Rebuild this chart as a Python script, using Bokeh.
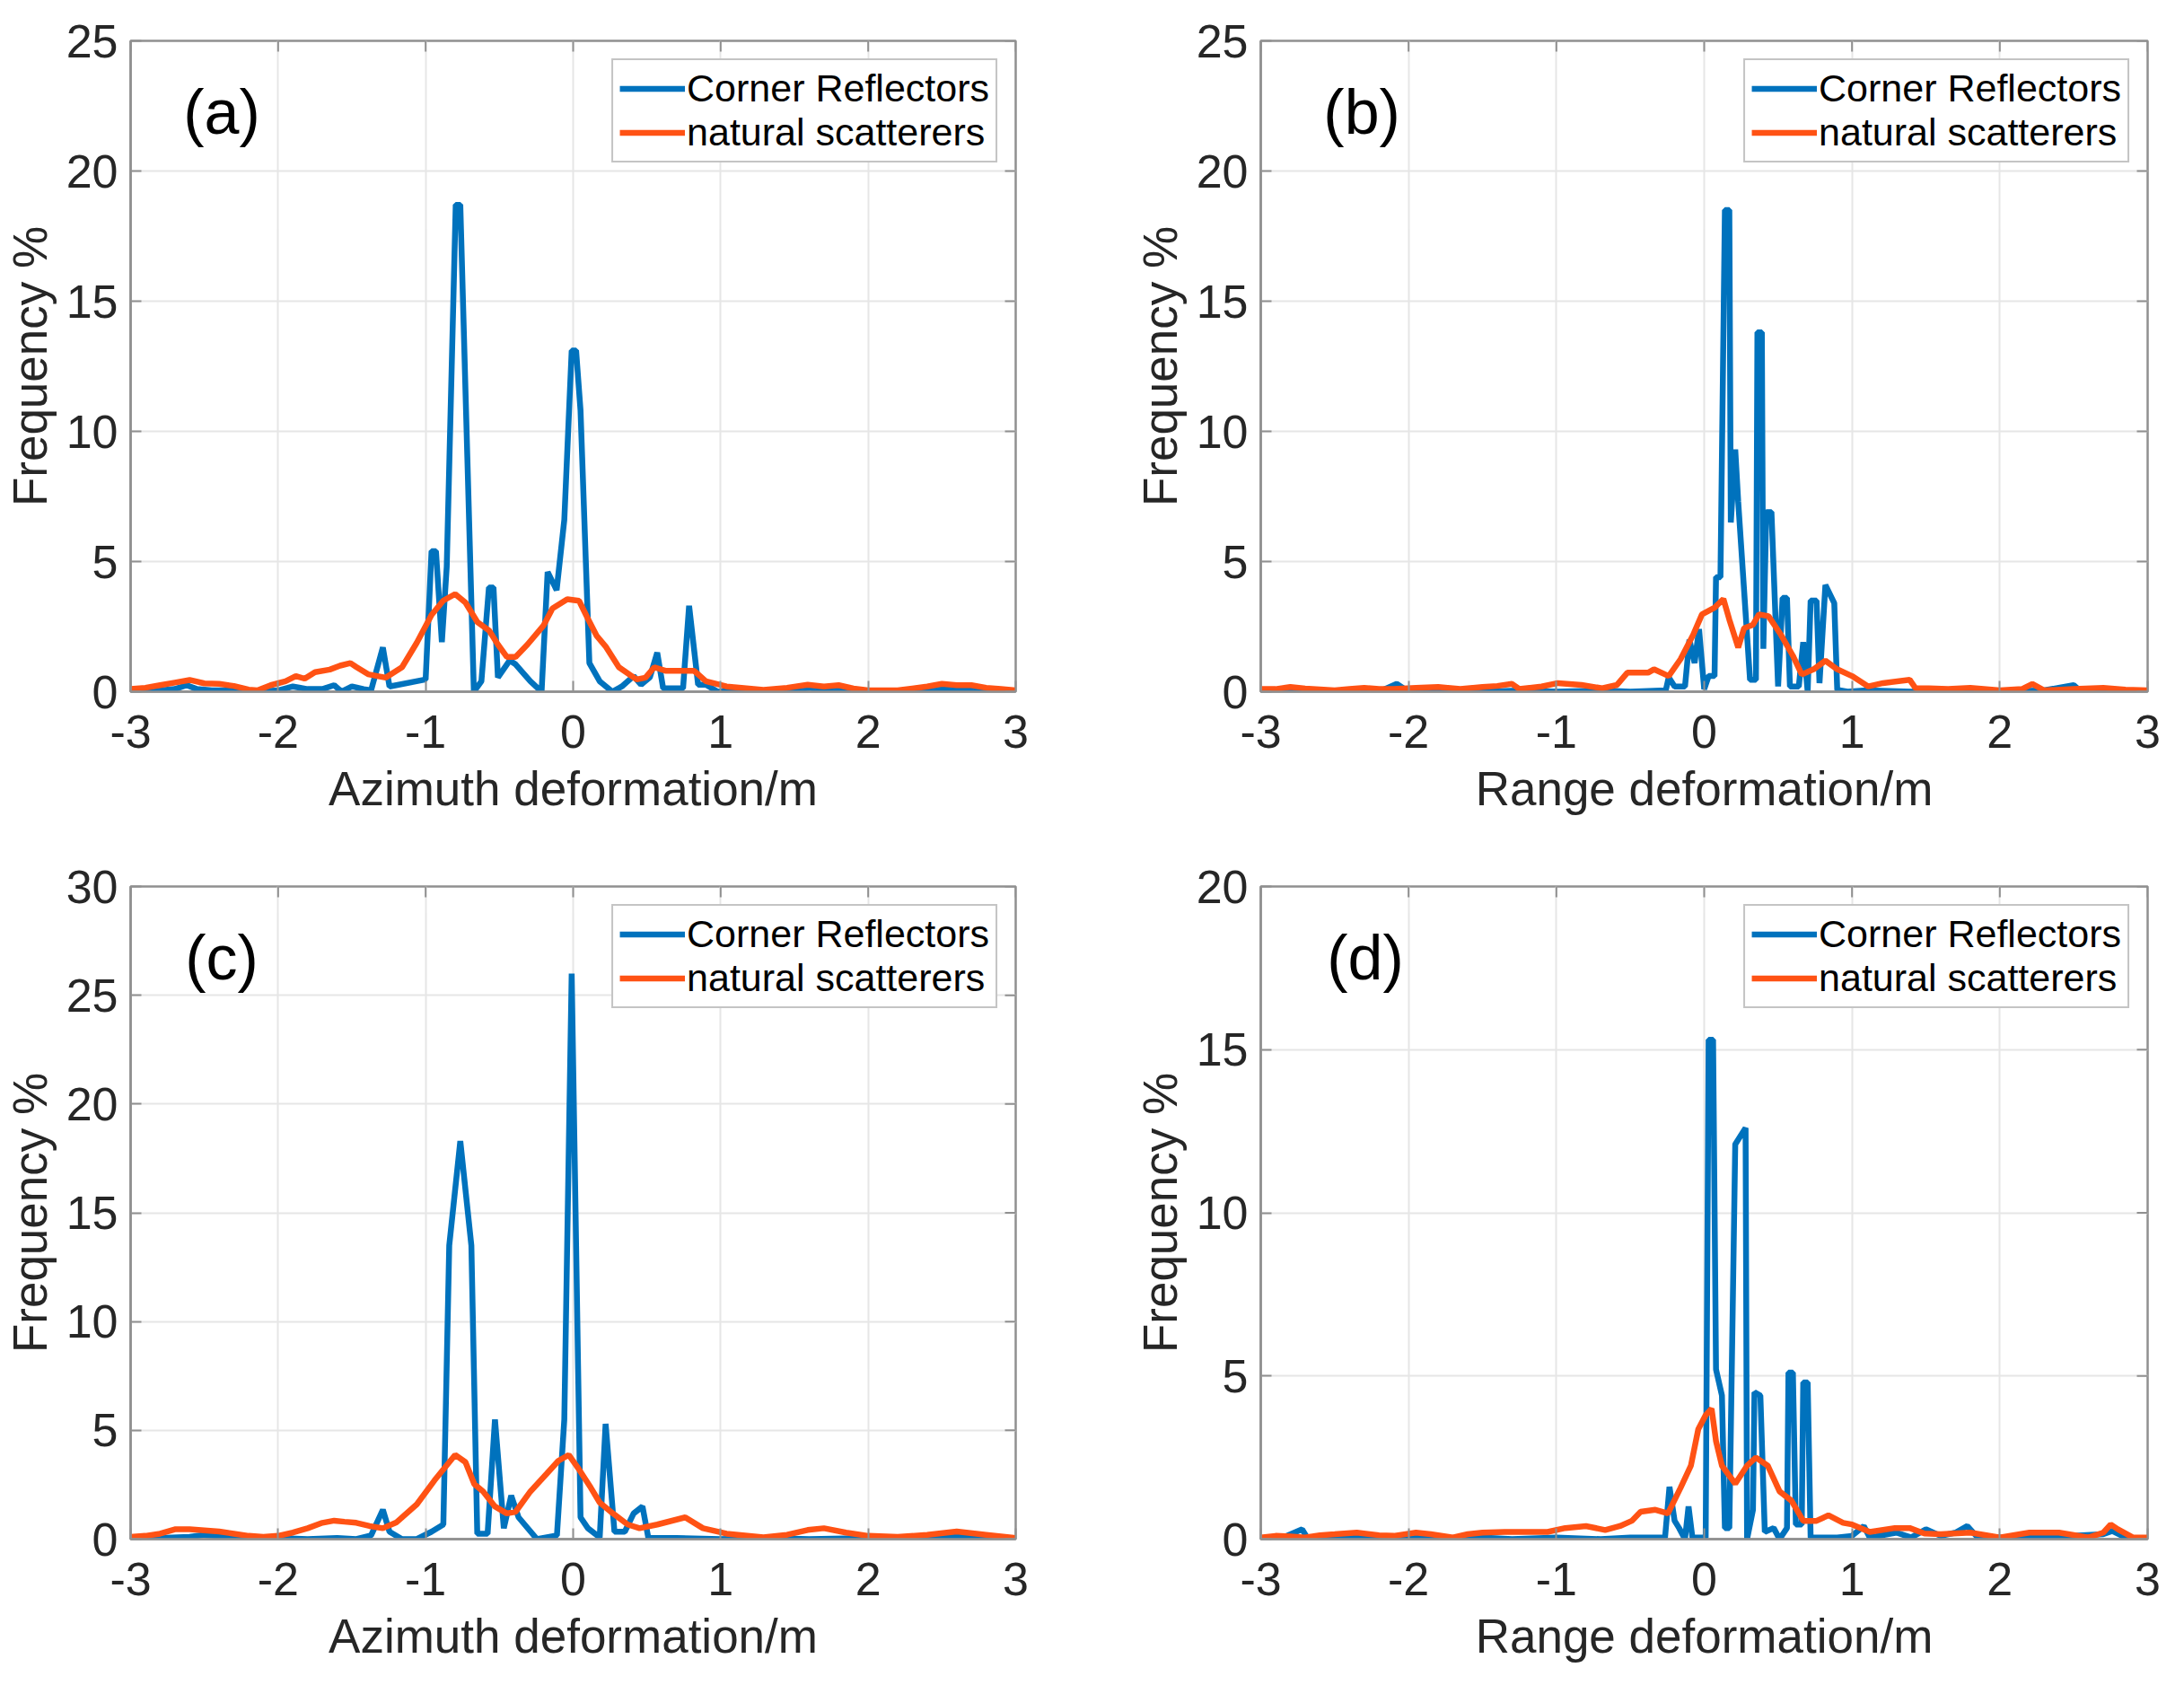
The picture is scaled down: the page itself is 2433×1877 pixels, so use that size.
from bokeh.plotting import figure
from bokeh.models import Range1d, FixedTicker, Label
from bokeh.layouts import gridplot
from bokeh.embed import file_html
from bokeh.resources import INLINE

# ---------------- data ----------------
x_ticks = [-3, -2, -1, 0, 1, 2, 3]
series_names = ["Corner Reflectors", "natural scatterers"]
panel_tags = ["(a)", "(b)", "(c)", "(d)"]
x_labels = ["Azimuth deformation/m", "Range deformation/m",
            "Azimuth deformation/m", "Range deformation/m"]
y_label = "Frequency %"
y_max = [25, 25, 30, 20]

# (a) azimuth, corner reflectors
a_cr_x = [-3.0, -2.9, -2.8, -2.7, -2.62, -2.55, -2.45, -2.3, -2.15, -2.0, -1.9, -1.8, -1.7, -1.62,
          -1.57, -1.5, -1.42, -1.37, -1.29, -1.245, -1.0, -0.96, -0.93, -0.89, -0.857, -0.796,
          -0.765, -0.673, -0.622, -0.571, -0.54, -0.51, -0.43, -0.39, -0.29, -0.214, -0.173,
          -0.112, -0.06, -0.01, 0.02, 0.05, 0.11, 0.18, 0.265, 0.33, 0.41, 0.46, 0.52, 0.57,
          0.61, 0.745, 0.786, 0.847, 0.9, 0.98, 1.1, 1.3, 1.45, 1.6, 1.7, 1.8, 1.9, 2.1, 2.3,
          2.5, 2.6, 2.7, 2.85, 3.0]
a_cr_y = [0.0, 0.05, 0.05, 0.1, 0.25, 0.1, 0.05, 0.05, 0.0, 0.05, 0.2, 0.1, 0.1, 0.25,
          0.0, 0.2, 0.1, 0.05, 1.7, 0.2, 0.47, 5.4, 5.4, 1.9, 4.8, 18.7,
          18.7, 0.0, 0.4, 4.0, 4.0, 0.55, 1.2, 1.05, 0.4, 0.0, 4.6,
          3.9, 6.6, 13.1, 13.1, 10.8, 1.1, 0.4, 0.0, 0.2, 0.6, 0.27, 0.55, 1.5,
          0.13, 0.13, 3.3, 0.27, 0.27, 0.0, 0.05, 0.0, 0.05, 0.15, 0.05, 0.12, 0.0, 0.0, 0.05,
          0.12, 0.05, 0.1, 0.02, 0.0]
# (a) azimuth, natural scatterers
a_ns_x = [-3.0, -2.9, -2.8, -2.7, -2.6, -2.5, -2.4, -2.3, -2.2, -2.14, -2.05, -1.95, -1.88, -1.82,
          -1.75, -1.65, -1.58, -1.51, -1.47, -1.39, -1.27, -1.16, -1.06, -0.96, -0.88, -0.8,
          -0.73, -0.65, -0.57, -0.51, -0.45, -0.39, -0.31, -0.2, -0.14, -0.04, 0.04, 0.1, 0.16,
          0.22, 0.31, 0.43, 0.49, 0.55, 0.63, 0.82, 0.9, 1.04, 1.29, 1.45, 1.59, 1.7, 1.8, 1.9,
          2.0, 2.2, 2.4, 2.5, 2.6, 2.7, 2.8, 2.9, 3.0]
a_ns_y = [0.1, 0.15, 0.25, 0.35, 0.45, 0.32, 0.3, 0.22, 0.08, 0.05, 0.25, 0.4, 0.6, 0.5,
          0.75, 0.85, 1.0, 1.1, 0.95, 0.67, 0.54, 0.94, 1.88, 2.95, 3.5, 3.75,
          3.42, 2.68, 2.35, 1.81, 1.34, 1.34, 1.81, 2.55, 3.2, 3.55, 3.49, 2.8, 2.14,
          1.74, 0.94, 0.47, 0.54, 0.94, 0.8, 0.8, 0.4, 0.2, 0.07, 0.15, 0.27, 0.2, 0.25, 0.12,
          0.05, 0.05, 0.2, 0.3, 0.25, 0.25, 0.15, 0.1, 0.05]

# (b) range, corner reflectors
b_cr_x = [-3.0, -2.8, -2.6, -2.4, -2.2, -2.08, -2.0, -1.8, -1.5, -1.2, -1.0, -0.7, -0.5, -0.26,
          -0.24, -0.2, -0.13, -0.1, -0.065, -0.035, 0.0, 0.03, 0.07, 0.08, 0.11, 0.14, 0.17,
          0.18, 0.21, 0.23, 0.31, 0.35, 0.36, 0.39, 0.4, 0.42, 0.455, 0.5, 0.53, 0.56, 0.58,
          0.64, 0.67, 0.70, 0.72, 0.76, 0.78, 0.82, 0.88, 0.9, 0.97, 1.1, 1.4, 1.7, 2.0, 2.3,
          2.5, 2.55, 2.8, 3.0]
b_cr_y = [0.0, 0.05, 0.0, 0.05, 0.0, 0.3, 0.0, 0.05, 0.0, 0.05, 0.0, 0.05, 0.0, 0.05,
          0.55, 0.2, 0.2, 2.0, 1.1, 2.4, 0.1, 0.6, 0.6, 4.4, 4.4, 18.5, 18.5,
          6.5, 9.3, 7.3, 0.46, 0.46, 13.8, 13.8, 1.65, 6.9, 6.9, 0.2, 3.6, 3.6, 0.2,
          0.2, 1.9, 0.0, 3.5, 3.5, 0.33, 4.1, 3.4, 0.07, 0.0, 0.05, 0.0, 0.05, 0.0, 0.05,
          0.25, 0.0, 0.05, 0.0]
# (b) range, natural scatterers
b_ns_x = [-3.0, -2.9, -2.8, -2.7, -2.5, -2.4, -2.3, -2.2, -2.1, -1.95, -1.8, -1.65, -1.5, -1.4,
          -1.3, -1.25, -1.1, -0.99, -0.83, -0.69, -0.59, -0.52, -0.38, -0.34, -0.24, -0.16,
          -0.075, -0.015, 0.07, 0.13, 0.17, 0.23, 0.27, 0.33, 0.37, 0.435, 0.52, 0.6, 0.66,
          0.74, 0.82, 0.9, 1.0, 1.11, 1.21, 1.39, 1.43, 1.52, 1.65, 1.8, 2.0, 2.15, 2.22, 2.3,
          2.5, 2.7, 2.85, 3.0]
b_ns_y = [0.1, 0.1, 0.18, 0.12, 0.05, 0.1, 0.15, 0.1, 0.1, 0.15, 0.18, 0.1, 0.18, 0.22,
          0.3, 0.1, 0.2, 0.33, 0.26, 0.13, 0.26, 0.73, 0.73, 0.86, 0.6, 1.25,
          2.18, 2.97, 3.23, 3.56, 2.77, 1.7, 2.44, 2.57, 2.97, 2.9, 2.18, 1.38, 0.66,
          0.86, 1.19, 0.86, 0.6, 0.2, 0.33, 0.46, 0.13, 0.13, 0.1, 0.15, 0.05, 0.1, 0.3, 0.05,
          0.1, 0.15, 0.08, 0.05]

# (c) azimuth, corner reflectors
c_cr_x = [-3.0, -2.8, -2.6, -2.5, -2.35, -2.2, -2.0, -1.8, -1.6, -1.47, -1.37, -1.29, -1.245,
          -1.16, -1.06, -0.96, -0.88, -0.84, -0.765, -0.69, -0.65, -0.58, -0.53, -0.47, -0.42,
          -0.37, -0.245, -0.11, -0.06, -0.01, 0.05, 0.1, 0.18, 0.22, 0.28, 0.35, 0.41, 0.47,
          0.51, 0.7, 1.0, 1.3, 1.6, 2.0, 2.3, 2.6, 2.8, 3.0]
c_cr_y = [0.0, 0.05, 0.1, 0.2, 0.1, 0.02, 0.05, 0.0, 0.05, 0.0, 0.17, 1.35, 0.34,
          0.0, 0.0, 0.34, 0.67, 13.5, 18.3, 13.5, 0.25, 0.25, 5.5, 0.5, 2.0,
          1.0, 0.0, 0.17, 5.5, 26.0, 1.0, 0.5, 0.08, 5.3, 0.34, 0.34, 1.18, 1.5,
          0.05, 0.05, 0.0, 0.05, 0.0, 0.05, 0.0, 0.1, 0.05, 0.0]
# (c) azimuth, natural scatterers
c_ns_x = [-3.0, -2.9, -2.8, -2.7, -2.6, -2.5, -2.4, -2.3, -2.2, -2.1, -2.0, -1.9, -1.8, -1.7,
          -1.62, -1.55, -1.47, -1.38, -1.29, -1.2, -1.06, -0.94, -0.8, -0.73, -0.67, -0.61,
          -0.53, -0.45, -0.39, -0.29, -0.18, -0.1, -0.03, 0.04, 0.12, 0.18, 0.27, 0.37, 0.45,
          0.57, 0.76, 0.88, 1.04, 1.29, 1.45, 1.59, 1.7, 1.85, 2.0, 2.2, 2.4, 2.6, 2.8, 3.0]
c_ns_y = [0.1, 0.15, 0.25, 0.45, 0.45, 0.4, 0.35, 0.25, 0.15, 0.1, 0.15, 0.3, 0.5, 0.75,
          0.85, 0.8, 0.75, 0.6, 0.5, 0.76, 1.6, 2.7, 3.87, 3.54, 2.53, 2.19,
          1.5, 1.18, 1.26, 2.19, 3.0, 3.6, 3.87, 3.2, 2.36, 1.68, 1.18, 0.67, 0.5,
          0.67, 1.0, 0.5, 0.25, 0.08, 0.2, 0.42, 0.5, 0.3, 0.15, 0.1, 0.2, 0.35, 0.2, 0.05]

# (d) range, corner reflectors
d_cr_x = [-3.0, -2.85, -2.72, -2.68, -2.5, -2.3, -2.1, -1.9, -1.7, -1.5, -1.3, -1.0, -0.7, -0.5,
          -0.265, -0.235, -0.2, -0.17, -0.13, -0.106, -0.08, 0.01, 0.03, 0.06, 0.08, 0.12,
          0.14, 0.17, 0.21, 0.28, 0.29, 0.33, 0.34, 0.38, 0.41, 0.47, 0.51, 0.56, 0.57, 0.6,
          0.62, 0.66, 0.67, 0.7, 0.72, 0.9, 1.0, 1.08, 1.12, 1.3, 1.4, 1.5, 1.6, 1.7, 1.78,
          1.85, 2.1, 2.3, 2.5, 2.7, 2.76, 2.85, 3.0]
d_cr_y = [0.0, 0.05, 0.3, 0.0, 0.05, 0.1, 0.0, 0.05, 0.0, 0.05, 0.0, 0.05, 0.0, 0.05,
          0.05, 1.6, 0.56, 0.34, 0.0, 1.0, 0.05, 0.05, 15.3, 15.3, 5.2, 4.4,
          0.34, 0.34, 12.1, 12.6, 0.0, 0.9, 4.5, 4.4, 0.22, 0.34, 0.0, 0.34, 5.1, 5.1,
          0.45, 0.45, 4.8, 4.8, 0.05, 0.05, 0.1, 0.4, 0.05, 0.2, 0.05, 0.3, 0.1, 0.2, 0.4,
          0.05, 0.05, 0.1, 0.1, 0.15, 0.25, 0.05, 0.0]
# (d) range, natural scatterers
d_ns_x = [-3.0, -2.9, -2.8, -2.7, -2.6, -2.5, -2.35, -2.2, -2.1, -1.95, -1.85, -1.7, -1.6, -1.5,
          -1.35, -1.27, -1.06, -0.94, -0.8, -0.67, -0.57, -0.49, -0.43, -0.33, -0.245, -0.16,
          -0.09, -0.04, 0.01, 0.05, 0.08, 0.12, 0.21, 0.29, 0.35, 0.43, 0.51, 0.59, 0.67, 0.76,
          0.84, 0.94, 1.0, 1.12, 1.29, 1.39, 1.49, 1.6, 1.8, 2.0, 2.2, 2.4, 2.6, 2.7, 2.75,
          2.8, 2.9, 3.0]
d_ns_y = [0.05, 0.1, 0.08, 0.05, 0.12, 0.15, 0.2, 0.12, 0.1, 0.2, 0.15, 0.05, 0.15, 0.2,
          0.22, 0.22, 0.22, 0.34, 0.4, 0.28, 0.4, 0.56, 0.84, 0.9, 0.79, 1.57,
          2.25, 3.37, 3.8, 4.0, 3.0, 2.25, 1.7, 2.25, 2.5, 2.25, 1.46, 1.18, 0.56, 0.56,
          0.73, 0.5, 0.45, 0.22, 0.34, 0.34, 0.17, 0.15, 0.2, 0.05, 0.2, 0.2, 0.05, 0.2, 0.45,
          0.3, 0.05, 0.05]

# ---------------- style ----------------
FONT = "Liberation Sans"
BLUE = "#0072BD"
ORANGE = "#FF5214"
TXT = "#262626"
BOX = "#909090"
TICK_LEN_PX = 12


def make_panel(xcr, ycr, xns, yns, ymax, xlabel, tag, tag_xfrac,
               width, height, bl, br, bt, bb):
    frame_w = width - bl - br
    frame_h = height - bt - bb
    p = figure(width=width, height=height,
               x_range=Range1d(-3, 3), y_range=Range1d(0, ymax),
               output_backend="svg", toolbar_location=None,
               min_border_left=bl, min_border_right=br,
               min_border_top=bt, min_border_bottom=bb)
    p.background_fill_color = "white"
    p.border_fill_color = "white"
    p.outline_line_color = BOX
    p.outline_line_width = 2.5

    p.line(xcr, ycr, line_color=BLUE, line_width=6.5, legend_label=series_names[0])
    p.line(xns, yns, line_color=ORANGE, line_width=6.5, legend_label=series_names[1])

    yticks = list(range(0, ymax + 1, 5))
    p.xaxis.ticker = FixedTicker(ticks=x_ticks)
    p.yaxis.ticker = FixedTicker(ticks=yticks)
    p.xaxis.major_label_overrides = {t: str(t) for t in x_ticks}
    p.yaxis.major_label_overrides = {t: str(t) for t in yticks}
    p.xaxis.axis_label = xlabel
    p.yaxis.axis_label = y_label

    for ax in p.xaxis + p.yaxis:
        ax.major_label_text_font = FONT
        ax.major_label_text_font_size = "52px"
        ax.major_label_text_color = TXT
        ax.axis_label_text_font = FONT
        ax.axis_label_text_font_size = "53px"
        ax.axis_label_text_font_style = "normal"
        ax.axis_label_text_color = TXT
        ax.axis_line_color = BOX
        ax.axis_line_width = 2.5
        ax.major_tick_in = TICK_LEN_PX
        ax.major_tick_out = 0
        ax.minor_tick_in = 0
        ax.minor_tick_out = 0
        ax.major_tick_line_color = BOX
        ax.major_tick_line_width = 2
    p.xaxis.major_label_standoff = 26
    p.xaxis.axis_label_standoff = 13
    p.yaxis.major_label_standoff = 14
    p.yaxis.axis_label_standoff = 8

    # inward tick marks on the top and right edges of the box (from the tick lists)
    dy = ymax * TICK_LEN_PX / frame_h
    dx = 6.0 * TICK_LEN_PX / frame_w
    p.segment(x0=x_ticks, y0=[ymax] * len(x_ticks), x1=x_ticks, y1=[ymax - dy] * len(x_ticks),
              line_color=BOX, line_width=2)
    p.segment(x0=[3] * len(yticks), y0=yticks, x1=[3 - dx] * len(yticks), y1=yticks,
              line_color=BOX, line_width=2)

    p.grid.grid_line_color = "#e6e6e6"
    p.grid.grid_line_width = 2

    lg = p.legend[0]
    lg.location = "top_right"
    lg.margin = 20
    lg.padding = 7
    lg.spacing = 0
    lg.border_line_color = "#8a8a8a"
    lg.border_line_width = 2
    lg.background_fill_color = "white"
    lg.background_fill_alpha = 1.0
    lg.label_text_font = FONT
    lg.label_text_font_size = "43px"
    lg.label_text_color = "#000000"
    lg.glyph_width = 73
    lg.glyph_height = 49
    lg.label_height = 49
    lg.label_standoff = 2

    p.add_layout(Label(x=-3 + 6 * tag_xfrac, y=0.89 * ymax, text=tag,
                       text_font=FONT, text_font_size="70px", text_color="#000000",
                       text_align="center", text_baseline="middle"))
    return p


pa = make_panel(a_cr_x, a_cr_y, a_ns_x, a_ns_y, y_max[0], x_labels[0], panel_tags[0], 0.103,
                1208, 930, 143, 77, 45, 160)
pb = make_panel(b_cr_x, b_cr_y, b_ns_x, b_ns_y, y_max[1], x_labels[1], panel_tags[1], 0.114,
                1209, 930, 196, 25, 45, 160)
pc = make_panel(c_cr_x, c_cr_y, c_ns_x, c_ns_y, y_max[2], x_labels[2], panel_tags[2], 0.103,
                1208, 931, 143, 77, 57, 147)
pd = make_panel(d_cr_x, d_cr_y, d_ns_x, d_ns_y, y_max[3], x_labels[3], panel_tags[3], 0.118,
                1209, 931, 196, 25, 57, 147)

grid = gridplot([[pa, pb], [pc, pd]], toolbar_location=None)

open("out.html", "w").write(file_html(grid, INLINE))
